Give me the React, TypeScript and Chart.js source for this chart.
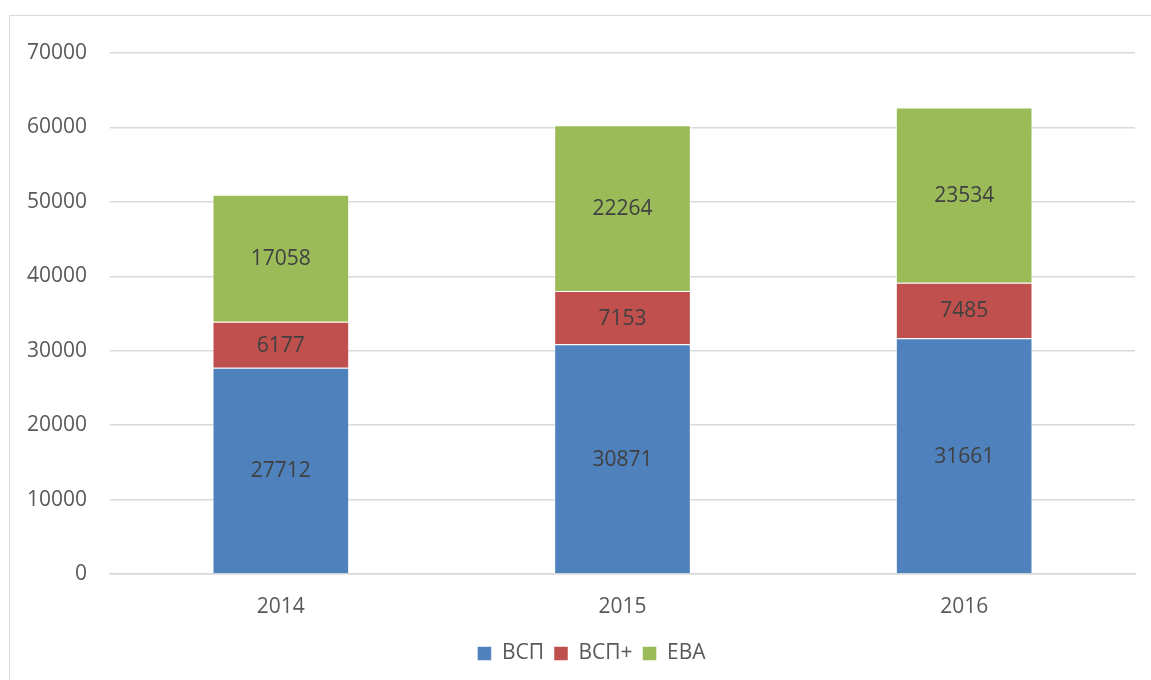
import React, { useEffect, useRef } from "react";
import { Chart, registerables } from "chart.js";

Chart.register(...registerables);

const categories = ["2014", "2015", "2016"];
const seriesNames = ["ВСП", "ВСП+", "ЕВА"];
const vsp = [27712, 30871, 31661];
const vspPlus = [6177, 7153, 7485];
const eva = [17058, 22264, 23534];
const colors = ["#4F81BD", "#C0504D", "#9BBB59"];
const yMax = 70000;
const yStep = 10000;

const FONT = "'Open Sans', 'DejaVu Sans', sans-serif";

const valueLabels = {
  id: "valueLabels",
  afterLayout(chart: any) {
    // let the y-axis labels extend left of the axis box (into the layout padding)
    chart.scales.y.left = 0;
  },
  afterDatasetsDraw(chart: any) {
    const ctx = chart.ctx;
    ctx.save();
    ctx.font = `21px ${FONT}`;
    ctx.fillStyle = "#404040";
    ctx.textAlign = "center";
    ctx.textBaseline = "middle";
    chart.data.datasets.forEach((ds: any, i: number) => {
      const meta = chart.getDatasetMeta(i);
      meta.data.forEach((bar: any, j: number) => {
        const y = (bar.y + bar.base) / 2;
        ctx.fillText(String(ds.data[j]), bar.x, y + 1);
      });
    });
    ctx.restore();
  },
};

export default function App() {
  const ref = useRef<HTMLCanvasElement | null>(null);
  useEffect(() => {
    document.body.style.overflow = "hidden";
    const chart = new Chart(ref.current as HTMLCanvasElement, {
      type: "bar",
      data: {
        labels: categories,
        datasets: [vsp, vspPlus, eva].map((d, i) => ({
          label: seriesNames[i],
          data: d,
          backgroundColor: colors[i],
          borderColor: "rgba(255,255,255,0.5)",
          borderWidth: 1,
          barPercentage: 0.4,
          categoryPercentage: 1,
        })),
      },
      options: {
        responsive: false,
        animation: false,
        layout: { padding: { left: 48, right: 16, top: 53, bottom: 6 } },
        plugins: {
          tooltip: { enabled: false },
          legend: {
            position: "bottom",
            labels: {
              font: { family: FONT, size: 21 },
              color: "#595959",
              boxWidth: 14,
              boxHeight: 14,
              padding: 10,
            },
          },
        },
        scales: {
          x: {
            stacked: true,
            grid: { display: false, drawTicks: false },
            border: { display: true, color: "#d9d9d9", width: 1.5 },
            ticks: { font: { family: FONT, size: 21 }, color: "#595959", padding: 20 },
            afterFit: (s: any) => { s.height = 59; },
          },
          y: {
            stacked: true,
            min: 0,
            max: yMax,
            grid: { color: "#d9d9d9", lineWidth: 1.5, drawTicks: false },
            border: { display: false },
            ticks: {
              stepSize: yStep,
              font: { family: FONT, size: 21 },
              color: "#595959",
              padding: 23,
              callback: (v: any) => String(v),
            },
            afterFit: (s: any) => { s.width = 62; },
          },
        },
      },
      plugins: [valueLabels],
    });
    return () => chart.destroy();
  }, []);
  return (
    <>
      <div
        style={{
          position: "fixed",
          left: 9,
          top: 15,
          right: -20,
          bottom: -20,
          border: "1.5px solid #d9d9d9",
        }}
      />
      <canvas
        ref={ref}
        width={1151}
        height={680}
        style={{ position: "fixed", left: 0, top: 0 }}
      />
    </>
  );
}
